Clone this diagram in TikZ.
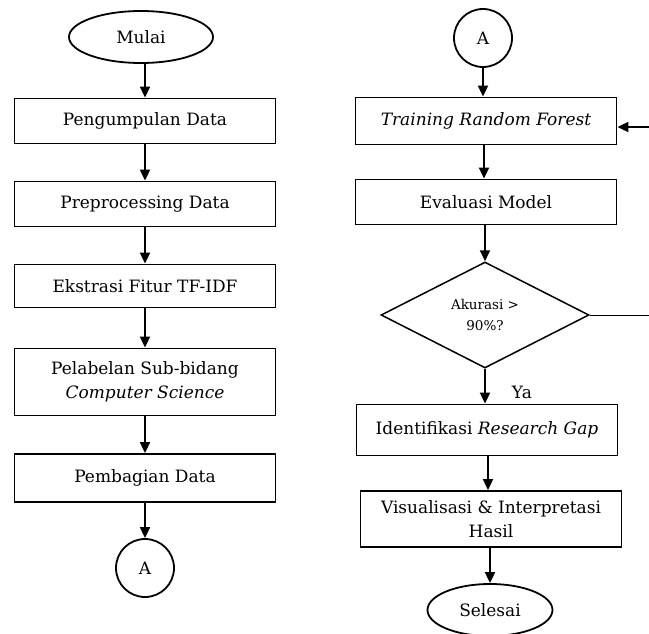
\documentclass[tikz,border=0pt]{standalone}
\usepackage{fontspec}
\setmainfont{DejaVu Serif}
\usetikzlibrary{shapes.geometric,arrows.meta}
\tikzset{
  proc/.style={draw, line width=1.8pt, minimum width=261pt, minimum height=45pt,
    inner sep=2pt, align=center, font=\fontsize{17}{24}\selectfont},
  term/.style={draw, ellipse, line width=1.8pt, minimum width=144pt,
    minimum height=52pt, inner sep=0pt, font=\fontsize{17}{20}\selectfont},
  conn/.style={draw, circle, line width=1.8pt, minimum size=58pt,
    inner sep=0pt, font=\fontsize{17}{20}\selectfont},
  dec/.style={draw, diamond, line width=1.5pt, minimum width=208pt,
    minimum height=106pt, inner sep=0pt, align=center,
    font=\fontsize{13.5}{21}\selectfont},
  flow/.style={line width=1.8pt, -{Triangle[length=11pt,width=10pt]}},
}
\begin{document}
\begin{tikzpicture}[x=1pt,y=-1pt]
  \useasboundingbox (0,0) rectangle (649,634);
  % left column
  \node[term] (mulai) at (141,37) {Mulai};
  \node[proc] (kumpul) at (145,121) {Pengumpulan Data};
  \node[proc] (prep) at (145,204) {Preprocessing Data};
  \node[proc, minimum height=43pt] (tfidf) at (145,286) {Ekstrasi Fitur TF-IDF};
  \node[proc, minimum height=67pt] (label) at (145,382)
    {Pelabelan Sub-bidang\\\textit{Computer Science}};
  \node[proc, minimum height=48pt] (bagi) at (145,478) {Pembagian Data};
  \node[conn] (a1) at (145,568) {A};
  % right column
  \node[conn] (a2) at (483,38) {A};
  \node[proc, minimum height=47pt] (train) at (486,121)
    {\textit{Training Random Forest}};
  \node[proc] (eval) at (486,202) {Evaluasi Model};
  \node[dec] (akurasi) at (485,315) {Akurasi >\\90\%?};
  \node[proc, minimum height=51pt] (gap) at (487,430)
    {Identifikasi \textit{Research Gap}};
  \node[proc, minimum height=56pt] (visual) at (491,519)
    {Visualisasi \& Interpretasi\\Hasil};
  \node[term, minimum width=125pt] (selesai) at (490,610) {Selesai};
  \node[font=\fontsize{17}{20}\selectfont] (ya) at (522,392) {Ya};
  \coordinate (balik) at (649,127);
  \coordinate (gagal) at (649,315);
  \begin{scope}[flow]
    \draw (mulai.south -| kumpul) -- (kumpul.north);
    \draw (kumpul) -- (prep);
    \draw (prep) -- (tfidf);
    \draw (tfidf) -- (label);
    \draw (label) -- (bagi);
    \draw (bagi) -- (a1);
    \draw (a2) -- (a2 |- train.north);
    \draw (train.south -| 484,0) -- (eval.north -| 484,0);
    \draw (eval.south -| akurasi) -- (akurasi.north);
    \draw (akurasi.south) -- (akurasi.south |- gap.north);
    \draw (gap.south -| 488,0) -- (visual.north -| 488,0);
    \draw (visual.south -| selesai) -- (selesai.north);
    \draw (balik) -- (balik -| train.east);
  \end{scope}
  \draw[line width=1pt] (akurasi.east) -- (gagal);
\end{tikzpicture}
\end{document}
